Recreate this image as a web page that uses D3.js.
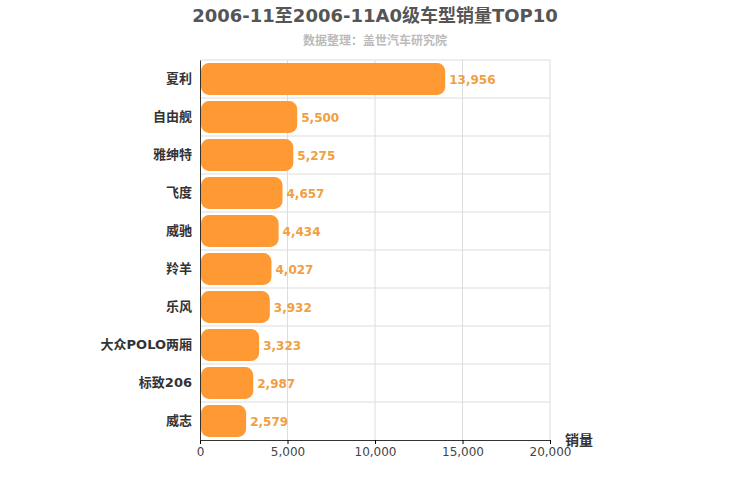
<!DOCTYPE html>
<html><head><meta charset="utf-8">
<script src="https://cdn.jsdelivr.net/npm/d3@7"></script>
<style>body{margin:0;background:#fff}text{font-family:"DejaVu Sans","Noto Sans CJK SC",sans-serif}</style>
</head><body><div id="plot"></div>
<script>
var categories = ["夏利","自由舰","雅绅特","飞度","威驰","羚羊","乐风","大众POLO两厢","标致206","威志"];
var sales = [13956,5500,5275,4657,4434,4027,3932,3323,2987,2579];
var xTicks = [0,5000,10000,15000,20000];

var w = 750, h = 500;
var svg = d3.select("#plot").append("svg").attr("width", w).attr("height", h);

var x = d3.scaleLinear().domain([0, 20000]).range([200, 550]);
var y = d3.scaleBand().domain(categories).range([60, 440]).paddingInner(0.16).paddingOuter(0.08);

svg.append("text").attr("x", 375).attr("y", 22).attr("text-anchor", "middle")
    .attr("font-size", 18).attr("font-weight", "bold").attr("fill", "#555")
    .text("2006-11至2006-11A0级车型销量TOP10");
svg.append("text").attr("x", 375).attr("y", 45).attr("text-anchor", "middle")
    .attr("font-size", 12).attr("font-weight", "bold").attr("fill", "#bbb").text("数据整理：盖世汽车研究院");

// grid
svg.selectAll(".vg").data(xTicks.slice(1)).enter().append("line")
    .attr("x1", d => x(d)).attr("x2", d => x(d)).attr("y1", 60).attr("y2", 440)
    .attr("stroke", "#ddd");
var step = 380 / categories.length;
svg.selectAll(".hg").data(d3.range(categories.length)).enter().append("line")
    .attr("x1", 200).attr("x2", 550).attr("y1", d => 60 + d * step).attr("y2", d => 60 + d * step)
    .attr("stroke", "#ddd");

svg.selectAll(".bar").data(sales).enter().append("rect")
    .attr("x", x(0) + 1).attr("y", (d, i) => y(categories[i]))
    .attr("width", d => x(d) - x(0)).attr("height", y.bandwidth())
    .attr("rx", 8).attr("fill", "#ff9933");

svg.selectAll(".lbl").data(sales).enter().append("text")
    .attr("x", d => x(d) + 5).attr("y", (d, i) => y(categories[i]) + y.bandwidth() / 2 + 5)
    .attr("font-size", 12).attr("font-weight", "bold").attr("fill", "#f0a040")
    .text(d => d3.format(",")(d));

var xAxis = svg.append("g").attr("transform", "translate(0,440)")
    .call(d3.axisBottom(x).tickValues(xTicks).tickSize(4).tickFormat(d3.format(",")));
xAxis.selectAll("text").attr("font-size", 12).attr("fill", "#444");
xAxis.select(".domain").attr("stroke", "#333");

var yAxis = svg.append("g").attr("transform", "translate(200,0)")
    .call(d3.axisLeft(y).tickSize(0).tickPadding(8));
yAxis.selectAll("text").attr("font-size", 13).attr("font-weight", "bold").attr("fill", "#333");
yAxis.select(".domain").attr("stroke", "#333");

svg.append("text").attr("x", 565).attr("y", 445).attr("font-size", 14)
    .attr("font-weight", "bold").attr("fill", "#333").text("销量");
</script></body></html>
